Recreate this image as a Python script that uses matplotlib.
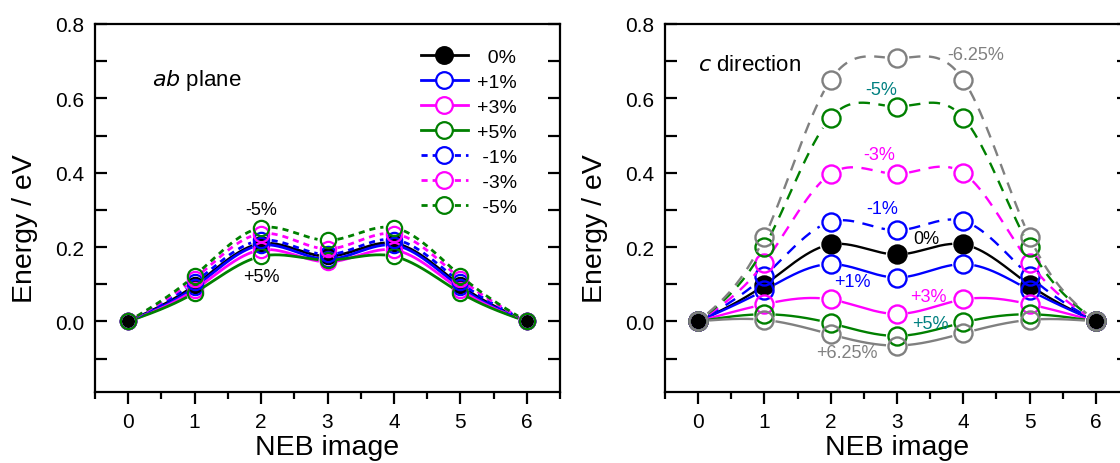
import numpy as np
import matplotlib
matplotlib.use("Agg")
import matplotlib.pyplot as plt
from matplotlib.lines import Line2D

plt.rcParams['font.family'] = ['Liberation Sans', 'DejaVu Sans']

images = [0, 1, 2, 3, 4, 5, 6]

# ab plane, energies (eV) per NEB image
ab_0 = [0, 0.097, 0.209, 0.175, 0.210, 0.097, 0]
ab_p1 = [0, 0.092, 0.205, 0.167, 0.205, 0.092, 0]
ab_p3 = [0, 0.085, 0.192, 0.160, 0.192, 0.085, 0]
ab_p5 = [0, 0.077, 0.175, 0.165, 0.175, 0.077, 0]
ab_m1 = [0, 0.105, 0.218, 0.180, 0.220, 0.105, 0]
ab_m3 = [0, 0.115, 0.236, 0.195, 0.236, 0.115, 0]
ab_m5 = [0, 0.123, 0.252, 0.218, 0.252, 0.123, 0]

# c direction
c_0 = [0, 0.098, 0.207, 0.180, 0.207, 0.098, 0]
c_p1 = [0, 0.084, 0.154, 0.118, 0.154, 0.084, 0]
c_p3 = [0, 0.046, 0.059, 0.020, 0.059, 0.046, 0]
c_p5 = [0, 0.019, -0.005, -0.039, -0.003, 0.019, 0]
c_p625 = [0, 0.004, -0.035, -0.065, -0.032, 0.004, 0]
c_m1 = [0, 0.122, 0.268, 0.245, 0.270, 0.122, 0]
c_m3 = [0, 0.158, 0.397, 0.397, 0.399, 0.158, 0]
c_m5 = [0, 0.200, 0.548, 0.578, 0.548, 0.200, 0]
c_m625 = [0, 0.227, 0.650, 0.708, 0.650, 0.227, 0]

BLK, BLU, MAG, GRN, GRY, TEAL = "black", "#0000FF", "#FF00FF", "#008000", "#808080", "#008080"

ab_series = [("  0%", ab_0, BLK, "-"), ("+1%", ab_p1, BLU, "-"), ("+3%", ab_p3, MAG, "-"),
             ("+5%", ab_p5, GRN, "-"), (" -1%", ab_m1, BLU, "--"), (" -3%", ab_m3, MAG, "--"),
             (" -5%", ab_m5, GRN, "--")]
c_series = [("0%", c_0, BLK, "-"), ("+1%", c_p1, BLU, "-"), ("+3%", c_p3, MAG, "-"),
            ("+5%", c_p5, GRN, "-"), ("+6.25%", c_p625, GRY, "-"), ("-1%", c_m1, BLU, "--"),
            ("-3%", c_m3, MAG, "--"), ("-5%", c_m5, GRN, "--"), ("-6.25%", c_m625, GRY, "--")]

# text labels on the c-direction panel: text, x, y, colour
c_notes = [("-6.25%", 4.18, 0.717, GRY), ("-5%", 2.76, 0.625, TEAL), ("-3%", 2.73, 0.448, MAG),
           ("-1%", 2.77, 0.303, BLU), ("0%", 3.44, 0.223, BLK), ("+1%", 2.32, 0.107, BLU),
           ("+3%", 3.47, 0.067, MAG), ("+5%", 3.50, -0.005, TEAL), ("+6.25%", 2.25, -0.083, GRY)]


def spline(x, y, n=120):
    # natural cubic spline, used only to draw smooth connecting lines
    x = np.asarray(x, float); y = np.asarray(y, float)
    m = len(x); h = np.diff(x)
    A = np.zeros((m, m)); b = np.zeros(m)
    A[0, 0] = A[-1, -1] = 1
    for i in range(1, m - 1):
        A[i, i - 1] = h[i - 1]; A[i, i] = 2 * (h[i - 1] + h[i]); A[i, i + 1] = h[i]
        b[i] = 6 * ((y[i + 1] - y[i]) / h[i] - (y[i] - y[i - 1]) / h[i - 1])
    M = np.linalg.solve(A, b)
    xs = np.linspace(x[0], x[-1], n * (m - 1) + 1)
    k = np.clip(np.searchsorted(x, xs) - 1, 0, m - 2)
    x0, x1 = x[k], x[k + 1]; hh = x1 - x0
    t0, t1 = x1 - xs, xs - x0
    ys = (M[k] * t0 ** 3 + M[k + 1] * t1 ** 3) / (6 * hh) \
        + (y[k] / hh - M[k] * hh / 6) * t0 + (y[k + 1] / hh - M[k + 1] * hh / 6) * t1
    return xs, ys


def gapped(ax, x, y, r):
    # cut the line around its own markers (r in pixels), like Origin does
    xs, ys = spline(x, y)
    P = ax.transData.transform(np.column_stack([xs, ys]))
    D = ax.transData.transform(np.column_stack([x, y]))
    cut = np.zeros(len(xs), bool)
    for d in D:
        cut |= np.hypot(P[:, 0] - d[0], P[:, 1] - d[1]) < r
    ys = ys.copy(); ys[cut] = np.nan
    return xs, ys


def style(ax):
    ax.set_xlim(-0.5, 6.5); ax.set_ylim(-0.19, 0.8)
    ax.set_xticks(images); ax.set_xticks(np.arange(-0.5, 6.6, 0.5), minor=True)
    ax.set_yticks([0.0, 0.2, 0.4, 0.6, 0.8]); ax.set_yticks(np.arange(-0.1, 0.8, 0.1), minor=True)
    ax.set_yticklabels(["0.0", "0.2", "0.4", "0.6", "0.8"])
    for s in ax.spines.values():
        s.set_linewidth(1.6)
    ax.tick_params(axis="x", which="both", direction="out", top=False, width=1.6, labelsize=15, pad=6)
    ax.tick_params(axis="x", which="major", length=8.5)
    ax.tick_params(axis="x", which="minor", length=5)
    ax.tick_params(axis="y", which="both", direction="in", left=True, right=True,
                   length=8.5, width=1.6, labelsize=15, pad=8)
    ax.set_xlabel("NEB image", fontsize=20.5, labelpad=2)
    ax.set_ylabel("Energy / eV", fontsize=20.5)
    ax.yaxis.set_label_coords(-0.123, 0.446)


fig = plt.figure(figsize=(11.2, 4.64), dpi=100)
ax1 = fig.add_axes([95 / 1120, 71 / 464, 465 / 1120, 368 / 464])
ax2 = fig.add_axes([665 / 1120, 71 / 464, 464 / 1120, 368 / 464])
style(ax1); style(ax2)

# (a) ab plane
handles = []
for lab, ys, col, ls in ab_series:
    dash = "-" if ls == "-" else (0, (2.2, 1.8))
    gx, gy = gapped(ax1, images, ys, 10)
    ax1.plot(gx, gy, color=col, lw=2.0, ls=dash)
    face = col if lab.strip() == "0%" else "none"
    ax1.plot(images, ys, ls="none", marker="o", ms=11, mew=1.6, mec=col, mfc=face)
    handles.append(Line2D([], [], color=col, lw=2.0, ls=dash, marker="o", ms=12, mew=1.6,
                          mec=col, mfc=col if lab.strip() == "0%" else "white"))
ax1.legend(handles, [s[0] for s in ab_series], loc="upper left", bbox_to_anchor=(0.68, 0.96),
           frameon=False, fontsize=14, handlelength=2.4, handletextpad=0.5,
           labelspacing=0.38, borderpad=0)
ax1.text(0.123, 0.85, "$\\it{ab}$ plane", transform=ax1.transAxes, fontsize=16, va="center")
ax1.text(2, 0.30, "-5%", fontsize=13, ha="center", va="center")
ax1.text(2, 0.12, "+5%", fontsize=13, ha="center", va="center")

# (b) c direction
for lab, ys, col, ls in c_series:
    dash = "-" if ls == "-" else (0, (4.8, 3.6))
    gx, gy = gapped(ax2, images, ys, 12)
    ax2.plot(gx, gy, color=col, lw=1.7, ls=dash)
    face = col if lab == "0%" else "none"
    ax2.plot(images, ys, ls="none", marker="o", ms=13, mew=1.7, mec=col, mfc=face)
for t, x, y, col in c_notes:
    ax2.text(x, y, t, color=col, fontsize=13, ha="center", va="center")
ax2.text(0.072, 0.891, "$\\it{c}$ direction", transform=ax2.transAxes, fontsize=16, va="center")

fig.savefig("out.png", dpi=100)
